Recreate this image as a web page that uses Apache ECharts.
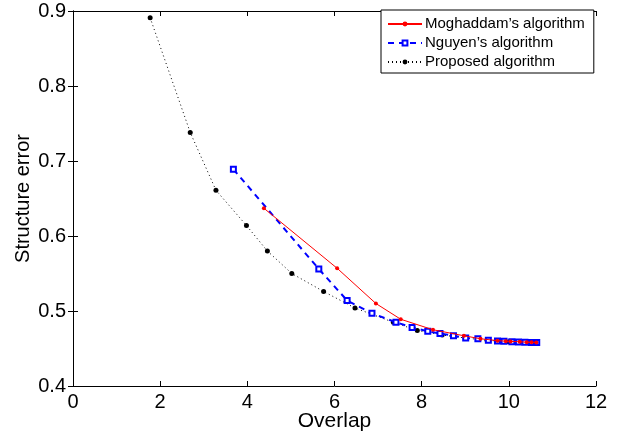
<!DOCTYPE html>
<html>
<head>
<meta charset="utf-8">
<script src="https://cdn.jsdelivr.net/npm/echarts@6/dist/echarts.min.js"></script>
<style>html,body{margin:0;padding:0;background:#fff}#c{width:621px;height:436px}</style>
</head>
<body>
<div id="c"></div>
<script>
var seriesNames = ['Moghaddam\u2019s algorithm', 'Nguyen\u2019s algorithm', 'Proposed algorithm'];
var moghaddamX = [4.38, 6.06, 6.95, 7.52, 8.26, 8.97, 9.35, 9.74, 9.93, 10.04, 10.25, 10.41, 10.52, 10.63];
var moghaddamY = [0.637, 0.557, 0.510, 0.489, 0.475, 0.467, 0.463, 0.4605, 0.4598, 0.4594, 0.459, 0.4585, 0.4582, 0.458];
var nguyenX = [3.68, 5.64, 6.29, 6.86, 7.41, 7.78, 8.14, 8.42, 8.73, 9.01, 9.29, 9.53, 9.74, 9.89, 10.07, 10.22, 10.37, 10.52, 10.64];
var nguyenY = [0.689, 0.556, 0.514, 0.497, 0.485, 0.478, 0.473, 0.470, 0.467, 0.464, 0.463, 0.461, 0.460, 0.4596, 0.4591, 0.4587, 0.4584, 0.4581, 0.458];
var proposedX = [1.77, 2.69, 3.28, 3.98, 4.46, 5.02, 5.75, 6.47, 7.35, 7.9, 8.47, 9.0, 9.5, 10.0, 10.62];
var proposedY = [0.891, 0.738, 0.661, 0.614, 0.580, 0.550, 0.526, 0.504, 0.485, 0.474, 0.468, 0.464, 0.461, 0.459, 0.458];
var xTicks = {min: 0, max: 12, interval: 2};
var yTicks = {min: 0.4, max: 0.9, interval: 0.1};

function pairs(xs, ys) { return xs.map(function (x, i) { return [x, ys[i]]; }); }

var font = 'Liberation Sans, Arial, Helvetica, sans-serif';
var chart = echarts.init(document.getElementById('c'));
var baseX = {
  type: 'value', min: xTicks.min, max: xTicks.max, interval: xTicks.interval,
  axisLine: {show: true, lineStyle: {color: '#000', width: 1}},
  axisTick: {show: true, inside: true, length: 5, lineStyle: {color: '#000'}},
  splitLine: {show: false}
};
var baseY = {
  type: 'value', min: yTicks.min, max: yTicks.max, interval: yTicks.interval,
  axisLine: {show: true, lineStyle: {color: '#000', width: 1}},
  axisTick: {show: true, inside: true, length: 5, lineStyle: {color: '#000'}},
  splitLine: {show: false}
};
chart.setOption({
  animation: false,
  backgroundColor: '#fff',
  textStyle: {fontFamily: font},
  grid: {left: 73, right: 25, top: 11, bottom: 50, containLabel: false, outerBoundsMode: 'none'},
  xAxis: [
    Object.assign({}, baseX, {
      position: 'bottom', name: 'Overlap', nameLocation: 'middle', nameGap: 25, nameMoveOverlap: false,
      nameTextStyle: {fontSize: 21, color: '#000', fontFamily: font, verticalAlign: 'top', lineHeight: 21},
      axisLabel: {fontSize: 20, color: '#000', margin: 6, fontFamily: font, lineHeight: 20,
        formatter: function (v) { return String(v); }}
    }),
    Object.assign({}, baseX, {position: 'top', axisLabel: {show: false}})
  ],
  yAxis: [
    Object.assign({}, baseY, {
      position: 'left', name: 'Structure error', nameLocation: 'middle', nameGap: 40, nameMoveOverlap: false,
      nameTextStyle: {fontSize: 20, color: '#000', fontFamily: font},
      axisLabel: {fontSize: 20, color: '#000', margin: 7, fontFamily: font,
        formatter: function (v) { return v.toFixed(1); }}
    }),
    Object.assign({}, baseY, {position: 'right', axisLabel: {show: false}})
  ],
  legend: {
    orient: 'vertical', left: 381, top: 10, width: 212,
    padding: [6, 9, 3, 6], itemGap: 3, itemWidth: 34, itemHeight: 6,
    borderColor: '#000', borderWidth: 1, borderRadius: 0, backgroundColor: '#fff',
    textStyle: {fontSize: 15, lineHeight: 16, color: '#000', fontFamily: font, padding: [0, 0, 0, -2]},
    data: seriesNames
  },
  series: [
    {
      name: seriesNames[0], type: 'line', data: pairs(moghaddamX, moghaddamY),
      symbol: 'circle', symbolSize: 4, showAllSymbol: true,
      lineStyle: {color: '#ff0000', width: 1},
      itemStyle: {color: '#ff0000'}, z: 3
    },
    {
      name: seriesNames[1], type: 'line', data: pairs(nguyenX, nguyenY),
      symbol: 'rect', symbolSize: 5, showAllSymbol: true,
      lineStyle: {color: '#0000ff', width: 2, type: [6, 5]},
      itemStyle: {color: '#ffffff', borderColor: '#0000ff', borderWidth: 2}, z: 2
    },
    {
      name: seriesNames[2], type: 'line', data: pairs(proposedX, proposedY),
      symbol: 'circle', symbolSize: 5, showAllSymbol: true,
      lineStyle: {color: '#000', width: 1, type: [1, 3]},
      itemStyle: {color: '#000'}, z: 1
    }
  ]
});
</script>
</body>
</html>
